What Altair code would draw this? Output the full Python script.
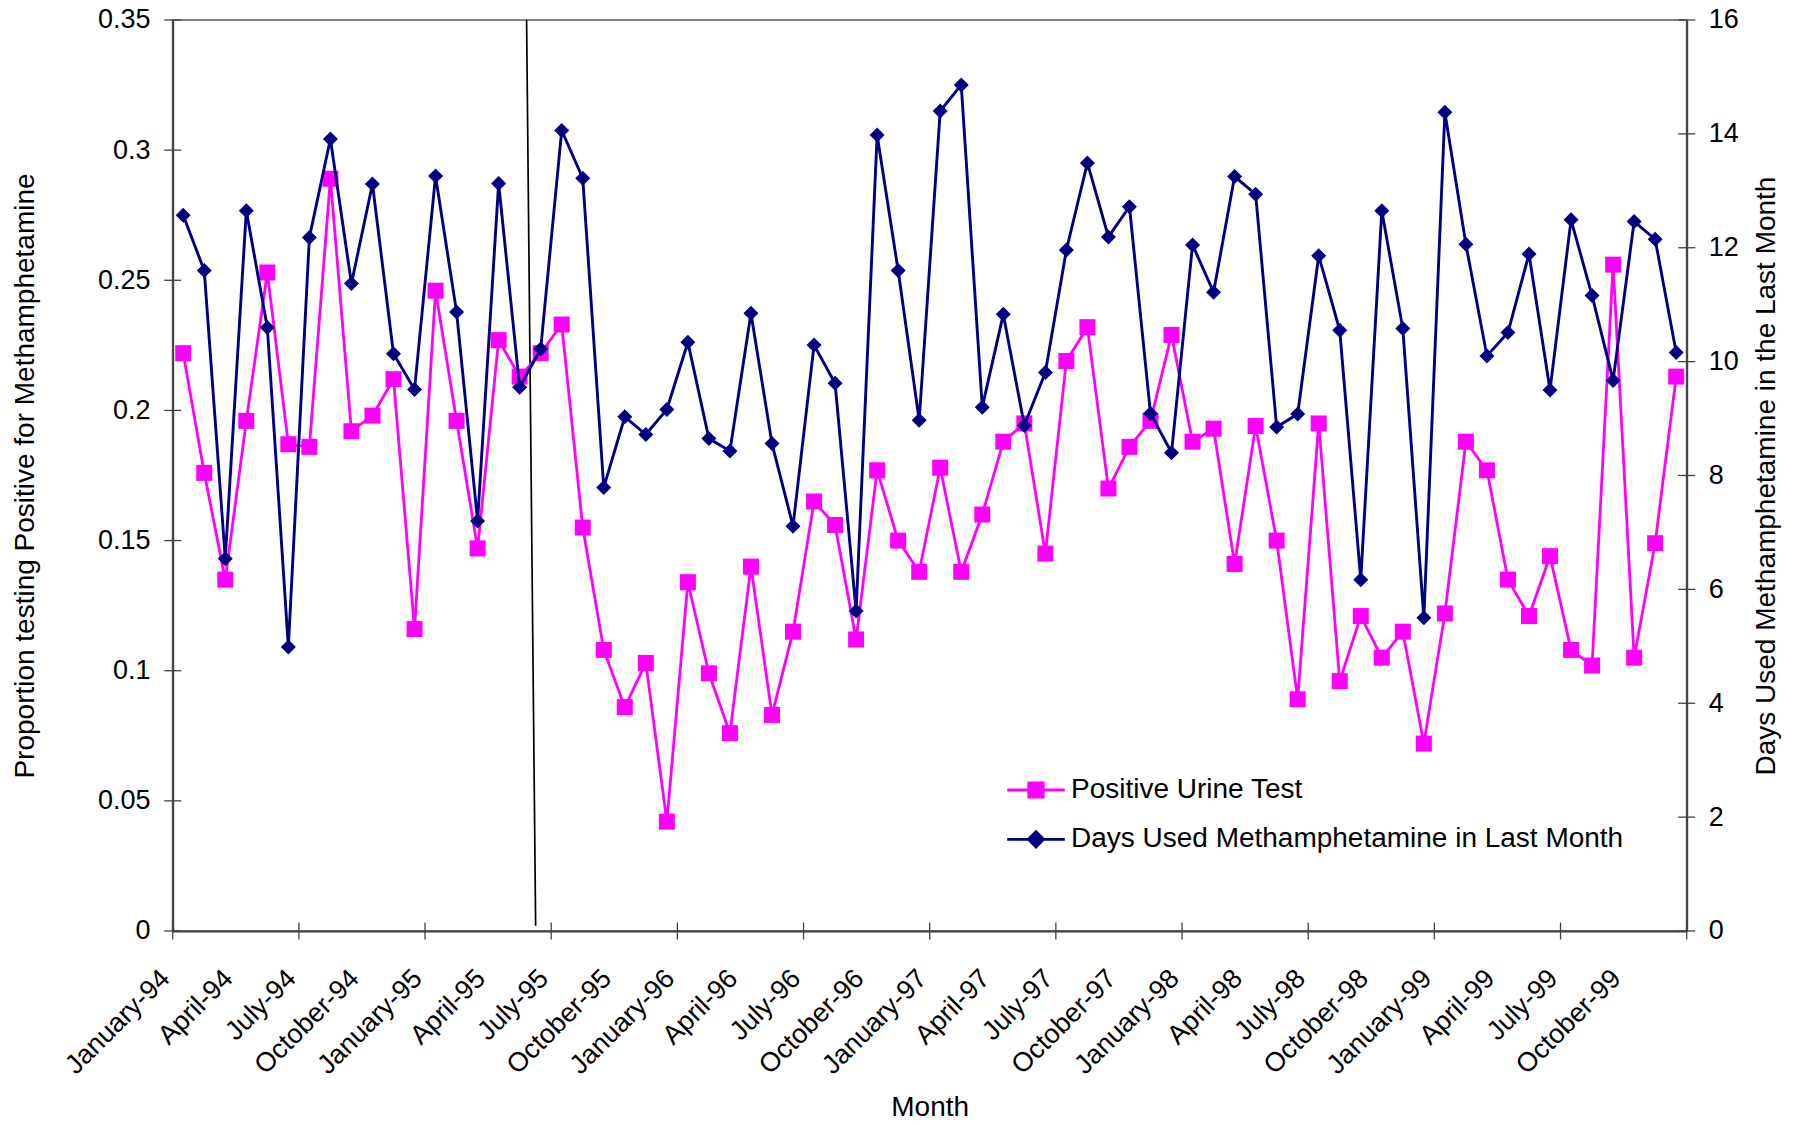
import altair as alt
import pandas as pd

# Monthly categories, January 1994 through December 1999
MONTH_NAMES = ["January", "February", "March", "April", "May", "June", "July",
               "August", "September", "October", "November", "December"]
YEARS = ["94", "95", "96", "97", "98", "99"]
MONTHS = [f"{m}-{y}" for y in YEARS for m in MONTH_NAMES]

# Proportion of urine tests positive for methamphetamine
POSITIVE_URINE = [
    0.222, 0.176, 0.135, 0.196, 0.253, 0.187, 0.186, 0.289, 0.192, 0.198, 0.212, 0.116,
    0.246, 0.196, 0.147, 0.227, 0.213, 0.222, 0.233, 0.155, 0.108, 0.086, 0.103, 0.042,
    0.134, 0.099, 0.076, 0.140, 0.083, 0.115, 0.165, 0.156, 0.112, 0.177, 0.150, 0.138,
    0.178, 0.138, 0.160, 0.188, 0.195, 0.145, 0.219, 0.232, 0.170, 0.186, 0.196, 0.229,
    0.188, 0.193, 0.141, 0.194, 0.150, 0.089, 0.195, 0.096, 0.121, 0.105, 0.115, 0.072,
    0.122, 0.188, 0.177, 0.135, 0.121, 0.144, 0.108, 0.102, 0.256, 0.105, 0.149, 0.213,
]

# Mean days methamphetamine was used in the last month
DAYS_USED = [
    12.57, 11.60, 6.54, 12.65, 10.60, 4.99, 12.18, 13.91, 11.37, 13.12, 10.14, 9.51,
    13.26, 10.87, 7.20, 13.13, 9.55, 10.22, 14.06, 13.22, 7.79, 9.03, 8.72, 9.16,
    10.34, 8.65, 8.43, 10.85, 8.56, 7.11, 10.29, 9.62, 5.62, 13.98, 11.60, 8.97,
    14.40, 14.86, 9.20, 10.83, 8.88, 9.81, 11.96, 13.49, 12.19, 12.72, 9.09, 8.40,
    12.05, 11.22, 13.25, 12.94, 8.85, 9.08, 11.86, 10.55, 6.17, 12.65, 10.58, 5.50,
    14.38, 12.06, 10.10, 10.51, 11.89, 9.50, 12.49, 11.16, 9.67, 12.46, 12.15, 10.16,
]

SERIES_URINE = "Positive Urine Test"
SERIES_DAYS = "Days Used Methamphetamine in Last Month"

# Axis tick values
LEFT_TICKS = [0, 0.05, 0.1, 0.15, 0.2, 0.25, 0.3, 0.35]
RIGHT_TICKS = [0, 2, 4, 6, 8, 10, 12, 14, 16]
X_LABEL_IDX = list(range(0, 72, 3))
X_TICK_IDX = [-0.5 + 6 * k for k in range(13)]

# Intervention marker line (month index, proportion) at top and bottom
DIVIDER_IDX = [16.33, 16.76]
DIVIDER_Y = [0.35, 0.002]

PINK = "#FF00FF"
NAVY = "#000080"
FONT = "Liberation Sans"
AXIS_COLOR = "#404040"

W, H = 1514, 911

df = pd.DataFrame({
    "idx": list(range(len(MONTHS))),
    "month": MONTHS,
    "urine": POSITIVE_URINE,
    "days": DAYS_USED,
    "s_urine": SERIES_URINE,
    "s_days": SERIES_DAYS,
})
left_ticks_df = pd.DataFrame({"urine": LEFT_TICKS})
right_ticks_df = pd.DataFrame({"days": RIGHT_TICKS})
x_ticks_df = pd.DataFrame({"idx": X_TICK_IDX})
divider_df = pd.DataFrame({"idx": [DIVIDER_IDX[0]], "idx2": [DIVIDER_IDX[1]],
                           "urine": [DIVIDER_Y[0]], "urine2": [DIVIDER_Y[1]]})

label_expr = "[" + ",".join(f"'{m}'" for m in MONTHS) + "][datum.value]"

x_axis = alt.Axis(
    values=X_LABEL_IDX, labelExpr=label_expr, labelAngle=-45,
    labelAlign="right", labelBaseline="middle", labelPadding=43, labelOffset=-18,
    labelOverlap=False, labelBound=False, labelFlush=False,
    ticks=False, tickSize=0, grid=False, domainColor=AXIS_COLOR, domainWidth=2,
    title="Month", titleX=757, titleY=176.5, titleAlign="center",
    titleBaseline="middle", titleAngle=0,
)
x_scale = alt.Scale(domain=[-0.5, 71.5], nice=False, zero=False)
X = alt.X("idx:Q", scale=x_scale, axis=x_axis)

left_axis = alt.Axis(
    values=LEFT_TICKS, format="~g", ticks=False, tickSize=0, labelPadding=22.7,
    labelOverlap=False, grid=False, domainColor=AXIS_COLOR, domainWidth=2,
    title="Proportion testing Positive for Methamphetamine",
    titleAngle=270, titleX=-147.7, titleY=H / 2, titleAlign="center",
    titleBaseline="middle",
)
left_scale = alt.Scale(domain=[0, 0.35], nice=False, zero=True)
YL = alt.Y("urine:Q", scale=left_scale, axis=left_axis)

right_axis = alt.Axis(
    orient="right", values=RIGHT_TICKS, ticks=False, tickSize=0, labelPadding=21.6,
    labelOverlap=False, grid=False, domainColor=AXIS_COLOR, domainWidth=2,
    title="Days Used Methamphetamine in the Last Month",
    titleAngle=270, titleX=80.3, titleY=H / 2, titleAlign="center",
    titleBaseline="middle",
)
right_scale = alt.Scale(domain=[0, 16], nice=False, zero=True)
YR = alt.Y("days:Q", scale=right_scale, axis=right_axis)

SQ_PATH = "M-3.6,0L3.6,0M-0.9,-0.9L0.9,-0.9L0.9,0.9L-0.9,0.9Z"
DM_PATH = "M-3.6,0L3.6,0M-0.95,0L0,-0.95L0.95,0L0,0.95Z"


def legend(path, color, y):
    return alt.Legend(
        title=None, orient="none", legendX=849.3, legendY=y, padding=0,
        symbolType=path, symbolSize=256, symbolStrokeColor=color,
        symbolStrokeWidth=2.8, symbolFillColor=color, symbolOpacity=1,
        labelFont=FONT, labelFontSize=28, labelColor="black", labelOffset=21,
        labelLimit=0,
    )


# Category-boundary ticks crossing the month axis
x_ticks = alt.Chart(x_ticks_df).mark_rule(color=AXIS_COLOR, strokeWidth=1.3).encode(
    x=X, y=alt.value(H - 8.5), y2=alt.value(H + 8.5)
)
left_tick_marks = alt.Chart(left_ticks_df).mark_rule(color=AXIS_COLOR, strokeWidth=1.3).encode(
    y=YL, x=alt.value(-8.5), x2=alt.value(8.5)
)
right_tick_marks = alt.Chart(right_ticks_df).mark_rule(color=AXIS_COLOR, strokeWidth=1.3).encode(
    y=YR, x=alt.value(W - 8.5), x2=alt.value(W + 8.5)
)
divider = alt.Chart(divider_df).mark_rule(color="black", strokeWidth=1.7).encode(
    x=X, x2="idx2:Q", y=YL, y2="urine2:Q"
)

urine_line = alt.Chart(df).mark_line(color=PINK, strokeWidth=2.8).encode(x=X, y=YL)
urine_pts = alt.Chart(df).mark_point(shape="square", size=256, filled=True, opacity=1).encode(
    x=X, y=YL,
    color=alt.Color("s_urine:N", scale=alt.Scale(range=[PINK]),
                    legend=legend(SQ_PATH, PINK, 756)),
)

days_line = alt.Chart(df).mark_line(color=NAVY, strokeWidth=2.9).encode(x=X, y=YR)
days_pts = alt.Chart(df).mark_point(shape="diamond", size=225, filled=True, opacity=1).encode(
    x=X, y=YR,
    color=alt.Color("s_days:N", scale=alt.Scale(range=[NAVY]),
                    legend=legend(DM_PATH, NAVY, 805.3)),
)

left_group = alt.layer(x_ticks, left_tick_marks, divider, urine_line, urine_pts)
right_group = alt.layer(right_tick_marks, days_line, days_pts)

chart = (
    alt.layer(left_group, right_group)
    .resolve_scale(y="independent", color="independent")
    .resolve_legend(color="independent")
    .properties(
        width=W, height=H,
        autosize=alt.AutoSizeParams(type="none"),
        padding={"left": 172.7, "top": 20, "right": 107.3, "bottom": 194.3},
        background="white",
    )
    .configure_view(stroke="#808080", strokeWidth=2)
    .configure_axis(labelFont=FONT, titleFont=FONT, labelFontSize=27, titleFontSize=28,
                    labelColor="black", titleColor="black", titleFontWeight="normal")
)

chart.save("out.html", embed_options={"renderer": "svg", "actions": False})
